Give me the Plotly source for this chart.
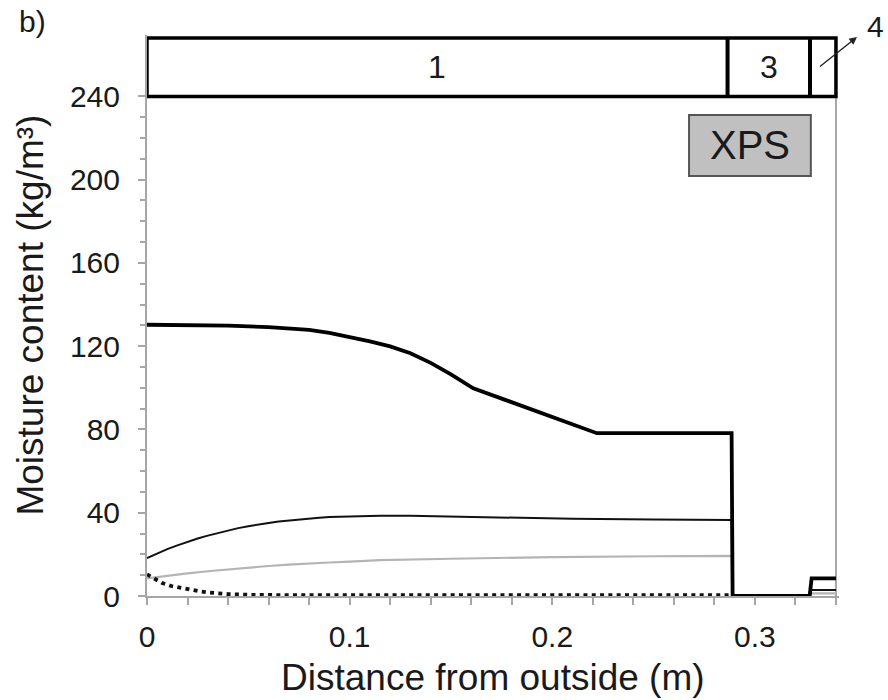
import plotly.graph_objects as go

# Layer boundaries (m) and their labels in the layer strip above the plot
layer_edges = [0.0, 0.2865, 0.3272, 0.34]
layer_labels = ["1", "3"]
strip_bottom = 240
strip_top = 268

# Moisture content profiles (kg/m3) versus distance from outside (m)
x_thick = [0, 0.02, 0.04, 0.06, 0.08, 0.09, 0.10, 0.11, 0.12, 0.13, 0.14, 0.15,
           0.161, 0.222, 0.2885, 0.2890, 0.3270, 0.3280, 0.34]
y_thick = [130.3, 130.2, 129.9, 129.2, 127.8, 126.4, 124.5, 122.3, 119.9, 116.6,
           112.0, 106.5, 99.8, 78.2, 78.2, 0.0, 0.0, 8.5, 8.5]

x_thin = [0, 0.005, 0.01, 0.015, 0.02, 0.025, 0.03, 0.035, 0.04, 0.045, 0.05, 0.055,
          0.06, 0.065, 0.07, 0.075, 0.08, 0.085, 0.09, 0.095, 0.10, 0.107, 0.115,
          0.13, 0.15, 0.18, 0.21, 0.25, 0.2885, 0.2888, 0.3272, 0.3278, 0.34]
y_thin = [18.2, 20.4, 22.5, 24.3, 26.0, 27.6, 29.0, 30.3, 31.5, 32.6, 33.5, 34.4,
          35.1, 35.8, 36.3, 36.8, 37.2, 37.6, 37.9, 38.1, 38.3, 38.5, 38.6,
          38.5, 38.1, 37.6, 37.1, 36.8, 36.5, 0.0, 0.0, 2.9, 2.9]

x_gray = [0, 0.008, 0.02, 0.03, 0.04, 0.05, 0.06, 0.07, 0.08, 0.09, 0.10, 0.115, 0.15,
          0.20, 0.25, 0.2885, 0.2888, 0.3272, 0.3278, 0.34]
y_gray = [8.5, 9.5, 10.9, 11.9, 12.8, 13.7, 14.4, 15.1, 15.7, 16.1, 16.5, 17.2, 17.9,
          18.7, 19.1, 19.3, 0.0, 0.0, 1.3, 1.3]

x_dot = [0, 0.004, 0.0075, 0.012, 0.016, 0.02, 0.025, 0.03, 0.035, 0.04, 0.05,
         0.07, 0.2885]
y_dot = [10.4, 8.0, 6.2, 4.8, 4.0, 3.2, 2.4, 1.7, 1.2, 0.9, 0.6, 0.4, 0.4]

# Axis ticks
x_major = [0, 0.1, 0.2, 0.3]
x_major_text = ["0", "0.1", "0.2", "0.3"]
x_minor = [round(0.02 * i, 2) for i in range(1, 18) if round(0.02 * i, 2) not in x_major]
y_major = [0, 40, 80, 120, 160, 200, 240]
y_minor = [v for v in range(10, 240, 10) if v not in y_major]

FONT = "Liberation Sans, Arial, Helvetica, sans-serif"
AXIS_GRAY = "#a6a6a6"
TEXT = "#1a1a1a"

fig = go.Figure()
fig.add_trace(go.Scatter(x=x_gray, y=y_gray, mode="lines",
                         line=dict(color="#b4b4b4", width=2.2), showlegend=False))
fig.add_trace(go.Scatter(x=x_dot, y=y_dot, mode="lines",
                         line=dict(color="#111111", width=3.8, dash="4px,4.3px"),
                         showlegend=False))
fig.add_trace(go.Scatter(x=x_thin, y=y_thin, mode="lines",
                         line=dict(color="#111111", width=2), showlegend=False))
fig.add_trace(go.Scatter(x=x_thick, y=y_thick, mode="lines",
                         line=dict(color="#000000", width=3.8), showlegend=False))

shapes = []
# Right frame line of the plot area
shapes.append(dict(type="line", xref="x", yref="y", x0=0.34, x1=0.34, y0=0, y1=strip_bottom,
                   line=dict(color=AXIS_GRAY, width=2), layer="below"))
# Layer strip
shapes.append(dict(type="rect", xref="x", yref="y", x0=layer_edges[0], x1=layer_edges[-1],
                   y0=strip_bottom, y1=strip_top, fillcolor="white",
                   line=dict(color="black", width=3.5)))
for xe in layer_edges[1:-1]:
    shapes.append(dict(type="line", xref="x", yref="y", x0=xe, x1=xe,
                       y0=strip_bottom, y1=strip_top, line=dict(color="black", width=4)))
# Material label box
shapes.append(dict(type="rect", xref="x", yref="y", x0=0.2675, x1=0.3276, y0=201.8, y1=231.1,
                   fillcolor="#c0c0c0", line=dict(color="#555555", width=2)))

annotations = []
for i, lab in enumerate(layer_labels):
    annotations.append(dict(x=(layer_edges[i] + layer_edges[i + 1]) / 2,
                            y=(strip_bottom + strip_top) / 2, xref="x", yref="y",
                            text=lab, showarrow=False,
                            font=dict(family=FONT, size=32, color=TEXT)))
annotations.append(dict(x=(0.2675 + 0.3276) / 2, y=216.5, xref="x", yref="y", text="XPS",
                        showarrow=False, font=dict(family=FONT, size=40, color=TEXT)))
# Layer 4 label with pointer
annotations.append(dict(x=1.068, y=1.048, xref="paper", yref="paper", text="4",
                        showarrow=False, font=dict(family=FONT, size=30, color=TEXT)))
annotations.append(dict(x=1.026, y=0.9964, xref="paper", yref="paper", text=" ",
                        showarrow=True, ax=-39, ay=31, arrowhead=2, arrowsize=1.1,
                        arrowwidth=1.4, arrowcolor="#222222", standoff=0, startstandoff=0,
                        font=dict(size=2)))
# Panel label
annotations.append(dict(x=-0.1879, y=1.0232, xref="paper", yref="paper", text="b)",
                        xanchor="left", yanchor="middle", showarrow=False,
                        font=dict(family=FONT, size=30, color=TEXT)))
# Axis titles
annotations.append(dict(x=0.5, y=-0.1445, xref="paper", yref="paper",
                        text="Distance from outside (m)", showarrow=False,
                        xanchor="center", yanchor="middle",
                        font=dict(family=FONT, size=37, color=TEXT)))
annotations.append(dict(x=-0.169, y=0.5, xref="paper", yref="paper",
                        text="Moisture content (kg/m³)", showarrow=False, textangle=-90,
                        xanchor="center", yanchor="middle",
                        font=dict(family=FONT, size=37, color=TEXT)))

fig.update_layout(
    width=888, height=700,
    margin=dict(l=147, r=49, t=35, b=104),
    paper_bgcolor="white", plot_bgcolor="white",
    shapes=shapes, annotations=annotations,
    font=dict(family=FONT, color=TEXT),
)
fig.update_xaxes(
    range=[0, 0.3415], showgrid=False, zeroline=False,
    showline=True, linecolor=AXIS_GRAY, linewidth=2,
    tickmode="array", tickvals=x_major, ticktext=x_major_text,
    ticks="outside", ticklen=7, tickwidth=1.5, tickcolor=AXIS_GRAY,
    ticklabelstandoff=6,
    tickfont=dict(family=FONT, size=30, color=TEXT),
    minor=dict(tickmode="array", tickvals=x_minor, ticks="outside", ticklen=7,
               tickwidth=1.5, tickcolor=AXIS_GRAY),
)
fig.update_yaxes(
    range=[0, 269.5], showgrid=False, zeroline=False,
    showline=True, linecolor=AXIS_GRAY, linewidth=2,
    tickmode="array", tickvals=y_major,
    ticks="outside", ticklen=7, tickwidth=1.5, tickcolor=AXIS_GRAY,
    ticklabelstandoff=12,
    tickfont=dict(family=FONT, size=30, color=TEXT),
    minor=dict(tickmode="array", tickvals=y_minor, ticks="outside", ticklen=5,
               tickwidth=1.5, tickcolor=AXIS_GRAY),
)

fig.write_html("out.html")
